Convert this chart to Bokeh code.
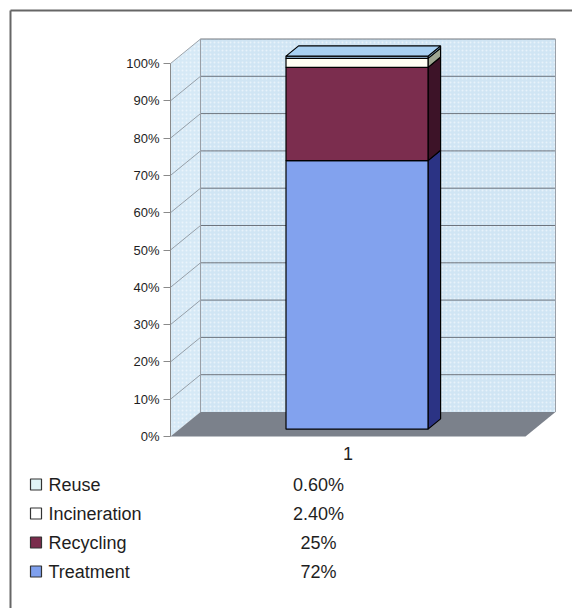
from bokeh.plotting import figure
from bokeh.models import Range1d, LinearAxis, FixedTicker, ColumnDataSource
from bokeh.embed import file_html
from bokeh.resources import INLINE
from bokeh.core.properties import value

# ---------------- data ----------------
categories = ["1"]
series = ["Treatment", "Recycling", "Incineration", "Reuse"]
values = [72, 25, 2.4, 0.6]
value_labels = ["72%", "25%", "2.40%", "0.60%"]
y_ticks = [0, 10, 20, 30, 40, 50, 60, 70, 80, 90, 100]
tick_labels = [f"{t}%" for t in y_ticks]

# ---------------- styles ----------------
front_colors = ["#82a2ee", "#7b2d4e", "#fffff4", "#a9d1f2"]
side_colors = ["#2b3384", "#3d1328", "#9ea692", "#86b4da"]
key_colors = ["#7fa0ee", "#7a2c4c", "#ffffff", "#e0f4f6"]
WALL = "#d0e5f4"
SIDE_WALL = "#d6e9f6"
FLOOR = "#7b818b"
GRID = "#5c6068"
FONT = "Liberation Sans"

W, H = 572, 608
PX_X = 355.0      # pixels per category unit
PX_Y = 3.73       # pixels per percent
X0_PX, Y0_PX = 170, 436   # pixel of category start / 0 %
DX = 30 / PX_X    # depth offset (x)
DY = 24.5 / PX_Y  # depth offset (y)

p = figure(width=W, height=H, output_backend="svg", toolbar_location=None,
           x_range=Range1d(-X0_PX / PX_X, (W - X0_PX) / PX_X),
           y_range=Range1d(-(H - Y0_PX) / PX_Y, Y0_PX / PX_Y),
           x_axis_location=None, y_axis_location=None, min_border=0,
           outline_line_color=None, background_fill_color="white",
           border_fill_color="white")
p.xgrid.visible = False
p.ygrid.visible = False

# ---------------- walls and floor ----------------
top = max(y_ticks)
p.patch([0, DX, DX, 0], [0, DY, top + DY, top], fill_color=SIDE_WALL, line_color=None,
        hatch_pattern="dot", hatch_color="white", hatch_alpha=0.5, hatch_scale=4)
p.patch([DX, 1 + DX, 1 + DX, DX], [DY, DY, top + DY, top + DY], fill_color=WALL,
        line_color=None, hatch_pattern="dot", hatch_color="white", hatch_alpha=0.5,
        hatch_scale=4)
p.patch([0, 1, 1 + DX, DX], [0, 0, DY, DY], fill_color=FLOOR, line_color=None)

gt = y_ticks[1:]
p.segment(x0=[DX] * len(gt), y0=[t + DY for t in gt], x1=[1 + DX] * len(gt),
          y1=[t + DY for t in gt], line_color=GRID, line_width=1, line_alpha=0.85)
p.segment(x0=[0] * len(gt), y0=gt, x1=[DX] * len(gt), y1=[t + DY for t in gt],
          line_color=GRID, line_width=1, line_alpha=0.55)
p.segment(x0=[DX, 1 + DX], y0=[DY, DY], x1=[DX, 1 + DX], y1=[top + DY, top + DY],
          line_color="#9aa0a8", line_width=1)

# ---------------- stacked 3D bar ----------------
bx0, bx1 = 0.3, 0.7
d0, d1 = 0.3, 0.72
bottoms, tops = [], []
acc = 0
for v in values:
    bottoms.append(acc)
    acc += v
    tops.append(acc)

side_xs, side_ys = [], []
for b, t in zip(bottoms, tops):
    side_xs.append([bx1 + d0 * DX, bx1 + d1 * DX, bx1 + d1 * DX, bx1 + d0 * DX])
    side_ys.append([b + d0 * DY, b + d1 * DY, t + d1 * DY, t + d0 * DY])
p.patches(side_xs, side_ys, fill_color=side_colors, line_color="black", line_width=1.2)

src = ColumnDataSource(dict(
    left=[bx0 + d0 * DX] * len(values), right=[bx1 + d0 * DX] * len(values),
    bottom=[b + d0 * DY for b in bottoms], top=[t + d0 * DY for t in tops],
    color=front_colors))
p.quad(left="left", right="right", bottom="bottom", top="top", fill_color="color",
       line_color="black", line_width=1.2, source=src)

T = tops[-1]
p.patch([bx0 + d0 * DX, bx1 + d0 * DX, bx1 + d1 * DX, bx0 + d1 * DX],
        [T + d0 * DY, T + d0 * DY, T + d1 * DY, T + d1 * DY],
        fill_color=front_colors[-1], line_color="black", line_width=1.2)

# ---------------- y axis ----------------
yaxis = LinearAxis(fixed_location=0, bounds=(0, 100),
                   ticker=FixedTicker(ticks=y_ticks),
                   major_label_overrides={t: l for t, l in zip(y_ticks, tick_labels)},
                   axis_line_color="#8a8a8a", major_tick_line_color="#8a8a8a",
                   major_tick_out=7, major_tick_in=0, minor_tick_out=0, minor_tick_in=0,
                   major_label_text_font=FONT, major_label_text_font_size="13px",
                   major_label_text_color="#1e1e1e", major_label_standoff=4)
p.add_layout(yaxis, "left")

# ---------------- category label ----------------
p.text(x=[0.5], y=[-17 / PX_Y], text=categories, text_align="center",
       text_baseline="middle", text_font=value(FONT), text_font_size="18px",
       text_color="#1e1e1e")

# ---------------- data table / legend ----------------
rows = list(range(len(series)))[::-1]  # Reuse first
row_y = [-(48 + 29 * i) / PX_Y for i in range(len(series))]
names = [series[i] for i in rows]
vals = [value_labels[i] for i in rows]
keys = [key_colors[i] for i in rows]
key_x = (35.5 - X0_PX) / PX_X
lab_x = (48 - X0_PX) / PX_X
val_x = (318 - X0_PX) / PX_X
p.scatter(x=[key_x] * len(names), y=row_y, marker="square", size=11,
          fill_color=keys, line_color="#333333", line_width=1.2)
p.text(x=[lab_x] * len(names), y=row_y, text=names, text_baseline="middle",
       text_font=value(FONT), text_font_size="18px", text_color="#1e1e1e")
p.text(x=[val_x] * len(names), y=row_y, text=vals, text_align="center",
       text_baseline="middle", text_font=value(FONT), text_font_size="18px",
       text_color="#1e1e1e")

# ---------------- outer border (top & left) ----------------
bl = (10 - X0_PX) / PX_X
bt = (Y0_PX - 10) / PX_Y
p.segment(x0=[bl, bl], y0=[bt, bt], x1=[(W - X0_PX) / PX_X, bl],
          y1=[bt, -(H - Y0_PX) / PX_Y], line_color="#666666", line_width=2)

open("out.html", "w").write(file_html(p, INLINE))
